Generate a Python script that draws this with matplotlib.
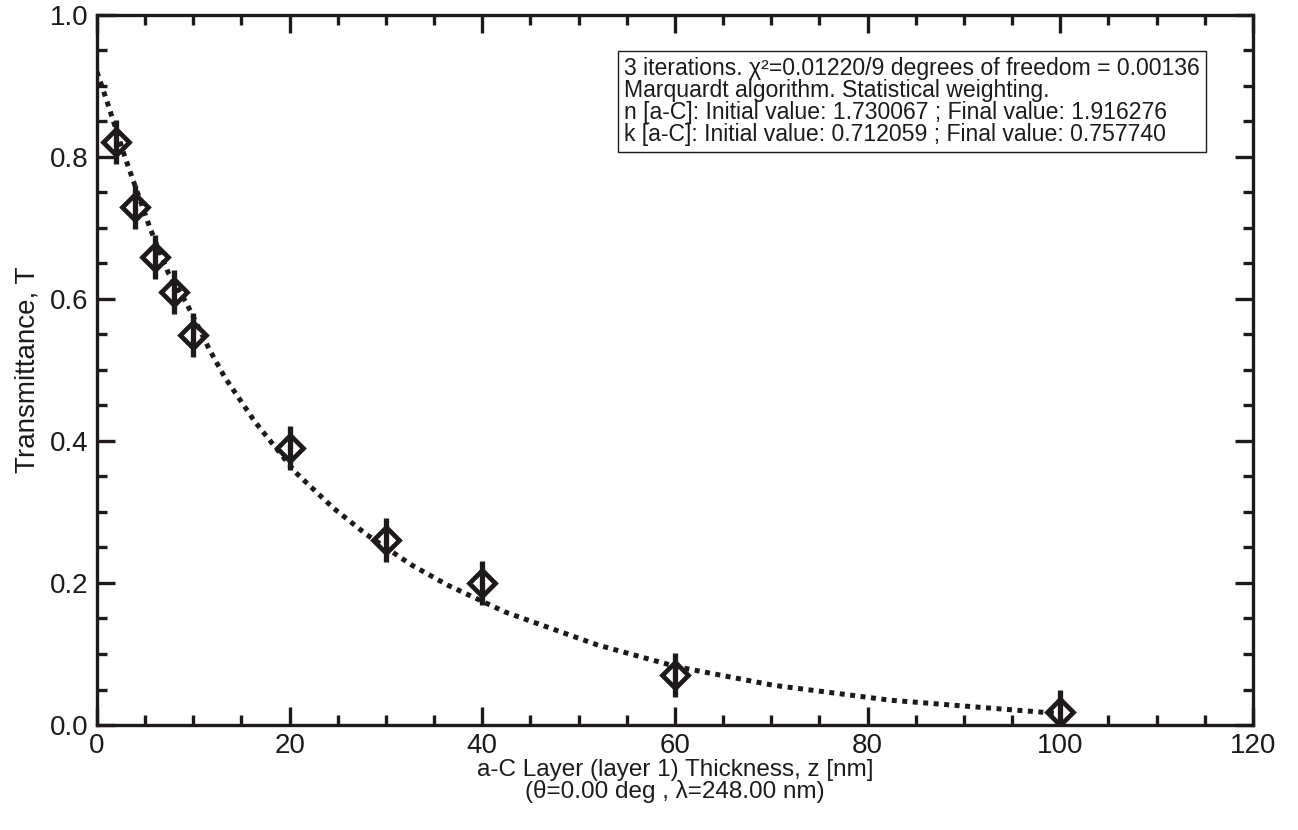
import matplotlib
matplotlib.use("Agg")
import matplotlib.pyplot as plt
from matplotlib.ticker import MultipleLocator

plt.rcParams['font.family'] = ['Liberation Sans', 'DejaVu Sans']

# Measured data
thickness = [2, 4, 6, 8, 10, 20, 30, 40, 60, 100]
transmittance = [0.821, 0.730, 0.659, 0.610, 0.549, 0.390, 0.261, 0.200, 0.070, 0.018]
t_error = [0.031, 0.031, 0.031, 0.031, 0.031, 0.031, 0.031, 0.031, 0.031, 0.031]

# Fitted curve
fit_x = [0, 1, 2.9, 5.5, 7.4, 9.3, 11.7, 13.3, 16.4, 20.6, 24.5, 28.0, 32.7,
         36.4, 42.4, 51.9, 60.2, 70.2, 82.3, 100]
fit_y = [0.92, 0.88, 0.80, 0.70, 0.637, 0.594, 0.528, 0.489, 0.427, 0.356,
         0.306, 0.268, 0.225, 0.197, 0.159, 0.113, 0.082, 0.056, 0.035, 0.016]

info_text = ("3 iterations. χ²=0.01220/9 degrees of freedom = 0.00136\n"
             "Marquardt algorithm. Statistical weighting.\n"
             "n [a-C]: Initial value: 1.730067 ; Final value: 1.916276\n"
             "k [a-C]: Initial value: 0.712059 ; Final value: 0.757740")

fig = plt.figure(figsize=(12.98, 8.30), dpi=100)
ax = fig.add_axes([0.0747, 0.1265, 0.8906, 0.8555])

ink = '#1e1a1a'
ax.plot(fit_x, fit_y, color=ink, lw=3.6, linestyle=(0, (1, 1.1)),
        dash_capstyle='butt', zorder=2)
ax.plot(thickness, transmittance, linestyle='none', marker='D', markersize=13.3,
        markerfacecolor='none', markeredgecolor=ink, markeredgewidth=3.4,
        zorder=3)
ax.errorbar(thickness, transmittance, yerr=t_error, fmt='none', ecolor=ink,
            elinewidth=3.8, capsize=0, zorder=4)

ax.set_xlim(0, 120)
ax.set_ylim(0, 1.0)
ax.xaxis.set_major_locator(MultipleLocator(20))
ax.xaxis.set_minor_locator(MultipleLocator(5))
ax.yaxis.set_major_locator(MultipleLocator(0.2))
ax.yaxis.set_minor_locator(MultipleLocator(0.05))
ax.yaxis.set_major_formatter(matplotlib.ticker.FormatStrFormatter('%.1f'))

for s in ax.spines.values():
    s.set_linewidth(2.4)
    s.set_color(ink)
ax.tick_params(which='both', direction='in', top=True, right=True,
               color=ink, width=2.4, labelsize=20, labelcolor=ink)
ax.tick_params(which='major', length=13, pad=6)
ax.tick_params(which='minor', length=7)

ax.set_xlabel("a-C Layer (layer 1) Thickness, z [nm]\n(θ=0.00 deg , λ=248.00 nm)",
              fontsize=17.5, color=ink, linespacing=0.95, labelpad=0)
ax.set_ylabel("Transmittance, T", fontsize=20, color=ink, labelpad=7)

ax.text(0.456, 0.941, info_text, transform=ax.transAxes, fontsize=16.6,
        color=ink, va='top', ha='left', linespacing=0.95,
        bbox=dict(boxstyle='square,pad=0.25', facecolor='white',
                  edgecolor=ink, linewidth=1.0))

fig.savefig("out.png", dpi=100)
